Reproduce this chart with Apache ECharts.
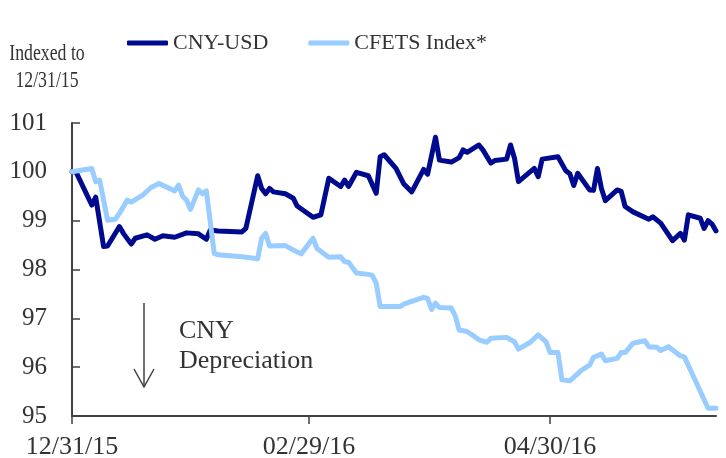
<!DOCTYPE html>
<html lang="en">
<head>
    <meta charset="UTF-8">
    <title>CNY-USD vs CFETS Index</title>
    <script src="https://cdn.jsdelivr.net/npm/echarts@6.0.0/dist/echarts.min.js"></script>
    <style>
        html, body { margin: 0; padding: 0; background: #fff; }
        #main { width: 726px; height: 458px; }
    </style>
</head>
<body>
<div id="main"></div>
<script type="text/javascript">
    // CNY-USD, indexed to 12/31/15
    var usdDates = ['2015-12-31','2016-01-01','2016-01-05','2016-01-06','2016-01-08','2016-01-09','2016-01-12','2016-01-13','2016-01-15','2016-01-16',
        '2016-01-19','2016-01-21','2016-01-23','2016-01-26','2016-01-29','2016-02-01','2016-02-03','2016-02-04','2016-02-06','2016-02-12',
        '2016-02-13','2016-02-16','2016-02-17','2016-02-18','2016-02-19','2016-02-20','2016-02-23','2016-02-25','2016-02-26','2016-03-01',
        '2016-03-03','2016-03-05','2016-03-08','2016-03-09','2016-03-10','2016-03-12','2016-03-15','2016-03-17','2016-03-18','2016-03-19',
        '2016-03-22','2016-03-24','2016-03-26','2016-03-29','2016-03-30','2016-04-01','2016-04-02','2016-04-05','2016-04-07','2016-04-08',
        '2016-04-09','2016-04-12','2016-04-13','2016-04-15','2016-04-16','2016-04-19','2016-04-20','2016-04-21','2016-04-22','2016-04-26',
        '2016-04-27','2016-04-28','2016-05-02','2016-05-04','2016-05-05','2016-05-06','2016-05-07','2016-05-10','2016-05-11','2016-05-12',
        '2016-05-13','2016-05-14','2016-05-17','2016-05-18','2016-05-19','2016-05-21','2016-05-25','2016-05-26','2016-05-28','2016-05-31',
        '2016-06-02','2016-06-03','2016-06-04','2016-06-07','2016-06-08','2016-06-09','2016-06-10','2016-06-11'];
    var usdValues = [100.00,100.00,99.32,99.48,98.47,98.48,98.88,98.74,98.52,98.64,
        98.71,98.62,98.69,98.66,98.75,98.73,98.62,98.81,98.79,98.77,
        98.84,99.92,99.66,99.55,99.66,99.59,99.55,99.46,99.30,99.07,
        99.12,99.87,99.70,99.83,99.70,99.99,99.92,99.56,100.31,100.35,
        100.07,99.75,99.59,100.05,99.95,100.71,100.24,100.20,100.29,100.45,
        100.40,100.55,100.45,100.18,100.23,100.26,100.55,100.28,99.80,100.07,
        99.90,100.26,100.31,100.02,99.96,99.72,99.97,99.63,99.62,100.07,
        99.66,99.41,99.63,99.60,99.29,99.18,99.03,99.08,98.95,98.59,
        98.74,98.60,99.12,99.05,98.84,99.00,98.93,98.79];

    // CFETS index, indexed to 12/31/15
    var cfetsDates = ['2015-12-31','2016-01-05','2016-01-06','2016-01-07','2016-01-09','2016-01-11','2016-01-12','2016-01-14','2016-01-15','2016-01-18',
        '2016-01-20','2016-01-22','2016-01-26','2016-01-27','2016-01-28','2016-01-29','2016-01-30','2016-02-01','2016-02-02','2016-02-03',
        '2016-02-05','2016-02-06','2016-02-09','2016-02-12','2016-02-16','2016-02-17','2016-02-18','2016-02-19','2016-02-23','2016-02-25',
        '2016-02-27','2016-03-01','2016-03-02','2016-03-05','2016-03-08','2016-03-09','2016-03-10','2016-03-12','2016-03-15','2016-03-16',
        '2016-03-17','2016-03-18','2016-03-23','2016-03-24','2016-03-25','2016-03-29','2016-03-30','2016-03-31','2016-04-01','2016-04-02',
        '2016-04-05','2016-04-06','2016-04-07','2016-04-09','2016-04-11','2016-04-12','2016-04-14','2016-04-15','2016-04-19','2016-04-21',
        '2016-04-22','2016-04-25','2016-04-27','2016-04-29','2016-04-30','2016-05-02','2016-05-03','2016-05-05','2016-05-08','2016-05-10',
        '2016-05-11','2016-05-13','2016-05-14','2016-05-17','2016-05-18','2016-05-19','2016-05-21','2016-05-24','2016-05-25','2016-05-27',
        '2016-05-28','2016-05-30','2016-06-02','2016-06-03','2016-06-09','2016-06-11'];
    var cfetsValues = [100.00,100.07,99.80,99.83,99.01,99.03,99.15,99.42,99.38,99.53,
        99.68,99.76,99.61,99.73,99.50,99.42,99.23,99.63,99.55,99.61,
        98.33,98.30,98.28,98.26,98.22,98.64,98.74,98.48,98.49,98.40,
        98.32,98.64,98.43,98.25,98.26,98.16,98.15,97.93,97.90,97.88,
        97.72,97.24,97.24,97.29,97.32,97.43,97.41,97.18,97.31,97.22,
        97.21,97.05,96.76,96.73,96.62,96.56,96.51,96.59,96.61,96.52,
        96.37,96.51,96.66,96.52,96.30,96.30,95.74,95.72,95.94,96.04,
        96.20,96.27,96.13,96.18,96.30,96.30,96.49,96.54,96.42,96.41,
        96.34,96.42,96.23,96.21,95.16,95.16];

    var xTickDates = ['2015-12-31', '2016-02-29', '2016-04-30'];
    var xRange = ['2015-12-31', '2016-06-11'];

    var font = 'Liberation Serif';
    var ink = '#333333';
    var axisColor = '#404040';

    function ts(s) {
        var p = s.split('-');
        return new Date(+p[0], +p[1] - 1, +p[2]).getTime();
    }
    function pad(n) { return n < 10 ? '0' + n : '' + n; }
    function pairs(d, v) {
        return d.map(function (s, i) { return [ts(s), v[i]]; });
    }

    var chart = echarts.init(document.getElementById('main'));

    var option = {
        animation: false,
        backgroundColor: '#fff',
        grid: { left: 72, right: 10, top: 123, bottom: 42, outerBoundsMode: 'none' },
        legend: {
            left: 122,
            top: 27,
            icon: 'roundRect',
            itemWidth: 41,
            itemHeight: 5,
            itemGap: 40,
            textStyle: { fontFamily: font, fontSize: 22, color: ink }
        },
        xAxis: {
            // dates held as timestamps on a plain value axis
            type: 'value',
            min: ts(xRange[0]),
            max: ts(xRange[1]),
            axisLine: { lineStyle: { color: axisColor, width: 2 } },
            axisTick: {
                customValues: xTickDates.map(ts),
                length: 8,
                lineStyle: { color: axisColor, width: 1.5 }
            },
            axisLabel: {
                customValues: xTickDates.map(ts),
                margin: 18,
                fontFamily: font,
                fontSize: 26,
                color: ink,
                formatter: function (v) {
                    var d = new Date(v);
                    return pad(d.getMonth() + 1) + '/' + pad(d.getDate()) + '/' + String(d.getFullYear()).slice(2);
                }
            },
            splitLine: { show: false }
        },
        yAxis: {
            type: 'value',
            min: 95,
            max: 101,
            interval: 1,
            axisLine: { show: true, lineStyle: { color: axisColor, width: 2 } },
            axisTick: { show: true, inside: true, length: 8, lineStyle: { color: axisColor, width: 1.5 } },
            axisLabel: { margin: 25, fontFamily: font, fontSize: 25, color: ink },
            splitLine: { show: false }
        },
        series: [
            {
                name: 'CNY-USD',
                type: 'line',
                data: pairs(usdDates, usdValues),
                showSymbol: false,
                color: '#000a8e',
                lineStyle: { width: 5, color: '#000a8e', cap: 'round', join: 'round' }
            },
            {
                name: 'CFETS Index*',
                type: 'line',
                data: pairs(cfetsDates, cfetsValues),
                showSymbol: false,
                color: '#99ccff',
                lineStyle: { width: 5, color: '#99ccff', cap: 'round', join: 'round' }
            }
        ],
        graphic: [
            {
                type: 'text', x: 47, y: 54, scaleX: 0.74,
                style: { text: 'Indexed to', x: 0, y: 0, align: 'center', verticalAlign: 'middle', fontFamily: font, fontSize: 24, fill: ink }
            },
            {
                type: 'text', x: 47, y: 81, scaleX: 0.74,
                style: { text: '12/31/15', x: 0, y: 0, align: 'center', verticalAlign: 'middle', fontFamily: font, fontSize: 24, fill: ink }
            },
            {
                type: 'line',
                shape: { x1: 144, y1: 303, x2: 144, y2: 386 },
                style: { stroke: axisColor, lineWidth: 1.5 }
            },
            {
                type: 'polyline',
                shape: { points: [[134, 369], [144, 387], [154, 369]] },
                style: { stroke: axisColor, lineWidth: 1.5, fill: null }
            },
            {
                type: 'text', x: 179, y: 331,
                style: { text: 'CNY', align: 'left', verticalAlign: 'middle', fontFamily: font, fontSize: 26, fill: ink }
            },
            {
                type: 'text', x: 179, y: 361,
                style: { text: 'Depreciation', align: 'left', verticalAlign: 'middle', fontFamily: font, fontSize: 26, fill: ink }
            }
        ]
    };

    chart.setOption(option);
</script>
</body>
</html>
